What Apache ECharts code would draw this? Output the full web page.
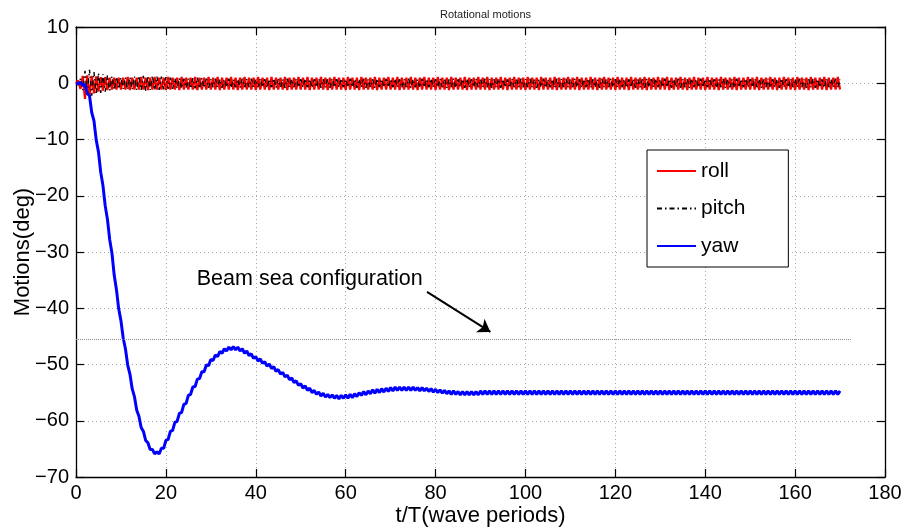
<!DOCTYPE html>
<html>
<head>
<meta charset="utf-8">
<script src="https://cdn.jsdelivr.net/npm/echarts@6/dist/echarts.min.js"></script>
<style>
html,body{margin:0;padding:0;background:#fff;}
#chart{width:907px;height:529px;}
</style>
</head>
<body>
<div id="chart"></div>
<script>
// ---- data (t/T sampled every half wave period) ----
const T_STEP = 0.5;
const xTicks = [0, 20, 40, 60, 80, 100, 120, 140, 160, 180];
const yTicks = [-70, -60, -50, -40, -30, -20, -10, 0, 10];
const seriesNames = ['roll', 'pitch', 'yaw'];

const roll = [
0,0.5,-1.0,1.3,-2.8,1.4,-2.3,1.3,-1.8,1.2,-1.5,1.1,-1.3,1.1,-1.2,1.0,-1.1,1.0,-1.1,1.0,
-1.1,1.0,-1.1,1.1,-1.2,1.0,-1.1,1.0,-1.1,1.1,-1.1,1.0,-1.2,1.0,-1.1,1.1,-1.1,1.0,-1.1,1.0,
-1.2,1.1,-1.1,1.0,-1.1,1.0,-1.2,1.1,-1.1,1.0,-1.1,1.0,-1.1,1.1,-1.2,1.0,-1.1,1.0,-1.1,1.1,
-1.1,1.0,-1.1,1.1,-1.2,1.0,-1.1,1.0,-1.1,1.1,-1.1,1.0,-1.2,1.0,-1.1,1.1,-1.1,1.0,-1.1,1.0,
-1.2,1.1,-1.1,1.0,-1.1,1.0,-1.2,1.1,-1.1,1.0,-1.1,1.0,-1.1,1.1,-1.2,1.0,-1.1,1.0,-1.1,1.1,
-1.1,1.0,-1.1,1.1,-1.2,1.0,-1.1,1.0,-1.1,1.1,-1.1,1.0,-1.2,1.0,-1.1,1.1,-1.1,1.0,-1.1,1.0,
-1.2,1.1,-1.1,1.0,-1.1,1.0,-1.2,1.1,-1.1,1.0,-1.1,1.0,-1.1,1.1,-1.2,1.0,-1.1,1.0,-1.1,1.1,
-1.1,1.0,-1.1,1.1,-1.2,1.0,-1.1,1.0,-1.1,1.1,-1.1,1.0,-1.2,1.0,-1.1,1.1,-1.1,1.0,-1.1,1.0,
-1.2,1.1,-1.1,1.0,-1.1,1.0,-1.2,1.1,-1.1,1.0,-1.1,1.0,-1.1,1.1,-1.2,1.0,-1.1,1.0,-1.1,1.1,
-1.1,1.0,-1.1,1.1,-1.2,1.0,-1.1,1.0,-1.1,1.1,-1.1,1.0,-1.2,1.0,-1.1,1.1,-1.1,1.0,-1.1,1.0,
-1.2,1.1,-1.1,1.0,-1.1,1.0,-1.2,1.1,-1.1,1.0,-1.1,1.0,-1.1,1.1,-1.2,1.0,-1.1,1.0,-1.1,1.1,
-1.1,1.0,-1.1,1.1,-1.2,1.0,-1.1,1.0,-1.1,1.1,-1.1,1.0,-1.2,1.0,-1.1,1.1,-1.1,1.0,-1.1,1.0,
-1.2,1.1,-1.1,1.0,-1.1,1.0,-1.2,1.1,-1.1,1.0,-1.1,1.0,-1.1,1.1,-1.2,1.0,-1.1,1.0,-1.1,1.1,
-1.1,1.0,-1.1,1.1,-1.2,1.0,-1.1,1.0,-1.1,1.1,-1.1,1.0,-1.2,1.0,-1.1,1.1,-1.1,1.0,-1.1,1.0,
-1.2,1.1,-1.1,1.0,-1.1,1.0,-1.2,1.1,-1.1,1.0,-1.1,1.0,-1.1,1.1,-1.2,1.0,-1.1,1.0,-1.1,1.1,
-1.1,1.0,-1.1,1.1,-1.2,1.0,-1.1,1.0,-1.1,1.1,-1.1,1.0,-1.2,1.0,-1.1,1.1,-1.1,1.0,-1.1,1.0,
-1.2,1.1,-1.1,1.0,-1.1,1.0,-1.2,1.1,-1.1,1.0,-1.1,1.0,-1.1,1.1,-1.2,1.0,-1.1,1.0,-1.1,1.1,
-1.1
];

const pitch = [
0,-0.3,0.8,-1.2,2.2,-2.0,2.4,-2.2,2.0,-2.0,1.8,-1.7,1.6,-1.5,1.4,-1.3,1.2,-1.2,1.1,-1.0,
1.0,-1.0,1.0,-1.1,1.1,-1.1,1.2,-1.2,1.3,-1.2,1.3,-1.3,1.3,-1.2,1.3,-1.2,1.2,-1.2,1.2,-1.1,
1.1,-1.0,1.0,-1.0,0.9,-0.9,0.9,-0.9,0.8,-0.8,0.8,-0.9,0.9,-0.9,1.0,-0.9,0.9,-0.8,0.8,-0.8,
0.7,-0.7,0.8,-0.7,0.7,-0.8,0.7,-0.7,0.8,-0.8,0.7,-0.7,0.7,-0.8,0.8,-0.7,0.7,-0.7,0.8,-0.7,
0.7,-0.7,0.8,-0.7,0.7,-0.8,0.7,-0.7,0.8,-0.8,0.7,-0.7,0.7,-0.8,0.8,-0.7,0.7,-0.7,0.8,-0.7,
0.7,-0.7,0.8,-0.7,0.7,-0.8,0.7,-0.7,0.8,-0.8,0.7,-0.7,0.7,-0.8,0.8,-0.7,0.7,-0.7,0.8,-0.7,
0.7,-0.7,0.8,-0.7,0.7,-0.8,0.7,-0.7,0.8,-0.8,0.7,-0.7,0.7,-0.8,0.8,-0.7,0.7,-0.7,0.8,-0.7,
0.7,-0.7,0.8,-0.7,0.7,-0.8,0.7,-0.7,0.8,-0.8,0.7,-0.7,0.7,-0.8,0.8,-0.7,0.7,-0.7,0.8,-0.7,
0.7,-0.7,0.8,-0.7,0.7,-0.8,0.7,-0.7,0.8,-0.8,0.7,-0.7,0.7,-0.8,0.8,-0.7,0.7,-0.7,0.8,-0.7,
0.7,-0.7,0.8,-0.7,0.7,-0.8,0.7,-0.7,0.8,-0.8,0.7,-0.7,0.7,-0.8,0.8,-0.7,0.7,-0.7,0.8,-0.7,
0.7,-0.7,0.8,-0.7,0.7,-0.8,0.7,-0.7,0.8,-0.8,0.7,-0.7,0.7,-0.8,0.8,-0.7,0.7,-0.7,0.8,-0.7,
0.7,-0.7,0.8,-0.7,0.7,-0.8,0.7,-0.7,0.8,-0.8,0.7,-0.7,0.7,-0.8,0.8,-0.7,0.7,-0.7,0.8,-0.7,
0.7,-0.7,0.8,-0.7,0.7,-0.8,0.7,-0.7,0.8,-0.8,0.7,-0.7,0.7,-0.8,0.8,-0.7,0.7,-0.7,0.8,-0.7,
0.7,-0.7,0.8,-0.7,0.7,-0.8,0.7,-0.7,0.8,-0.8,0.7,-0.7,0.7,-0.8,0.8,-0.7,0.7,-0.7,0.8,-0.7,
0.7,-0.7,0.8,-0.7,0.7,-0.8,0.7,-0.7,0.8,-0.8,0.7,-0.7,0.7,-0.8,0.8,-0.7,0.7,-0.7,0.8,-0.7,
0.7,-0.7,0.8,-0.7,0.7,-0.8,0.7,-0.7,0.8,-0.8,0.7,-0.7,0.7,-0.8,0.8,-0.7,0.7,-0.7,0.8,-0.7,
0.7,-0.7,0.8,-0.7,0.7,-0.8,0.7,-0.7,0.8,-0.8,0.7,-0.7,0.7,-0.8,0.8,-0.7,0.7,-0.7,0.8,-0.7,
0.7
];

const yaw = [
0,-0.1,0.2,-0.4,-0.2,-1.8,-2.2,-5.2,-6.7,-10.1,-12.2,-15.8,-18.2,-21.8,-24.2,-27.8,-30.2,-34.1,-36.7,-40.1,
-42.2,-45.3,-47.2,-50.1,-51.7,-54.3,-55.7,-58.1,-59.2,-61.2,-61.9,-63.5,-63.9,-65.1,-65.1,-65.9,-65.5,-65.9,-64.9,-64.9,
-63.5,-63.3,-61.9,-61.7,-60.3,-60.1,-58.7,-58.5,-57.1,-56.9,-55.5,-55.3,-54.0,-53.9,-52.6,-52.5,-51.3,-51.3,-50.1,-50.2,
-49.1,-49.3,-48.3,-48.6,-47.7,-48.0,-47.2,-47.6,-46.9,-47.4,-46.8,-47.4,-46.9,-47.6,-47.2,-48.0,-47.6,-48.4,-48.1,-48.9,
-48.6,-49.4,-49.0,-49.8,-49.5,-50.3,-49.9,-50.7,-50.4,-51.2,-50.9,-51.7,-51.4,-52.2,-51.9,-52.7,-52.4,-53.2,-52.9,-53.7,
-53.4,-54.2,-53.8,-54.6,-54.2,-55.0,-54.6,-55.3,-54.9,-55.6,-55.1,-55.8,-55.3,-55.9,-55.4,-56.0,-55.5,-56.1,-55.5,-56.0,
-55.4,-56.0,-55.3,-55.9,-55.2,-55.7,-55.0,-55.5,-54.8,-55.4,-54.7,-55.2,-54.5,-55.1,-54.4,-55.0,-54.3,-54.9,-54.2,-54.8,
-54.1,-54.7,-54.0,-54.6,-54.0,-54.6,-54.0,-54.6,-54.0,-54.6,-54.0,-54.6,-54.1,-54.7,-54.1,-54.7,-54.2,-54.8,-54.3,-54.9,
-54.4,-55.0,-54.5,-55.1,-54.6,-55.2,-54.7,-55.3,-54.7,-55.3,-54.8,-55.4,-54.8,-55.4,-54.8,-55.4,-54.8,-55.4,-54.8,-55.4,
-54.7,-55.3,-54.7,-55.3,-54.7,-55.3,-54.7,-55.3,-54.7,-55.3,-54.7,-55.3,-54.7,-55.3,-54.7,-55.3,-54.7,-55.3,-54.7,-55.3,
-54.7,-55.3,-54.7,-55.3,-54.7,-55.3,-54.7,-55.3,-54.7,-55.3,-54.7,-55.3,-54.7,-55.3,-54.7,-55.3,-54.7,-55.3,-54.7,-55.3,
-54.7,-55.3,-54.7,-55.3,-54.7,-55.3,-54.7,-55.3,-54.7,-55.3,-54.7,-55.3,-54.7,-55.3,-54.7,-55.3,-54.7,-55.3,-54.7,-55.3,
-54.7,-55.3,-54.7,-55.3,-54.7,-55.3,-54.7,-55.3,-54.7,-55.3,-54.7,-55.3,-54.7,-55.3,-54.7,-55.3,-54.7,-55.3,-54.7,-55.3,
-54.7,-55.3,-54.7,-55.3,-54.7,-55.3,-54.7,-55.3,-54.7,-55.3,-54.7,-55.3,-54.7,-55.3,-54.7,-55.3,-54.7,-55.3,-54.7,-55.3,
-54.7,-55.3,-54.7,-55.3,-54.7,-55.3,-54.7,-55.3,-54.7,-55.3,-54.7,-55.3,-54.7,-55.3,-54.7,-55.3,-54.7,-55.3,-54.7,-55.3,
-54.7,-55.3,-54.7,-55.3,-54.7,-55.3,-54.7,-55.3,-54.7,-55.3,-54.7,-55.3,-54.7,-55.3,-54.7,-55.3,-54.7,-55.3,-54.7,-55.3,
-54.7,-55.3,-54.7,-55.3,-54.7,-55.3,-54.7,-55.3,-54.7,-55.3,-54.7,-55.3,-54.7,-55.3,-54.7,-55.3,-54.7,-55.3,-54.7,-55.3,
-54.7
];

// annotation (data coordinates)
const noteText = 'Beam sea configuration';
const notePos = [52.0, -34.8];
const arrowFrom = [78.1, -37.1];
const arrowTo = [92.2, -44.2];
const refLineY = -45.5;
const refLineX = [0, 172.5];

// ---- chart ----
const FONT = "'Liberation Sans', Arial, Helvetica, sans-serif";
const toPairs = arr => arr.map((v, i) => [i * T_STEP, v]);
const minusFmt = v => String(v).replace('-', '\u2212');

const chart = echarts.init(document.getElementById('chart'), null, {renderer: 'canvas'});

const axisCommon = {
  type: 'value',
  axisLine: {show: true, onZero: false, lineStyle: {color: '#000', width: 1.3}},
  axisTick: {show: true, inside: true, length: 8, lineStyle: {color: '#000', width: 1.2}},
  splitLine: {show: false},
  axisLabel: {show: false}
};

chart.setOption({
  animation: false,
  backgroundColor: '#fff',
  textStyle: {fontFamily: FONT},
  title: {
    text: 'Rotational motions',
    left: 480.5, top: 4, textAlign: 'center',
    textStyle: {fontSize: 11, fontWeight: 'normal', color: '#222', fontFamily: FONT}
  },
  grid: {left: 76, right: 22, top: 27, bottom: 52, containLabel: false, outerBoundsMode: 'none'},
  legend: {
    data: seriesNames,
    orient: 'vertical',
    left: 647, top: 150,
    padding: [9, 43, 9, 9],
    itemGap: 13.5,
    itemWidth: 39, itemHeight: 14,
    backgroundColor: '#fff',
    borderColor: '#000', borderWidth: 1,
    itemStyle: {opacity: 0},
    textStyle: {fontSize: 21, color: '#000', fontFamily: FONT, lineHeight: 24}
  },
  xAxis: [
    Object.assign({}, axisCommon, {
      min: xTicks[0], max: xTicks[xTicks.length - 1], interval: xTicks[1] - xTicks[0],
      position: 'bottom',
      name: 't/T(wave periods)', nameLocation: 'middle', nameGap: 28, nameMoveOverlap: false,
      nameTextStyle: {fontSize: 22, color: '#000', fontFamily: FONT},
      splitLine: {show: true, lineStyle: {color: '#a8a8a8', width: 1, type: [1, 3]}},
      axisLabel: {show: true, fontSize: 20, color: '#000', margin: 6, fontFamily: FONT, formatter: minusFmt}
    }),
    Object.assign({}, axisCommon, {
      min: xTicks[0], max: xTicks[xTicks.length - 1], interval: xTicks[1] - xTicks[0],
      position: 'top'
    })
  ],
  yAxis: [
    Object.assign({}, axisCommon, {
      min: yTicks[0], max: yTicks[yTicks.length - 1], interval: yTicks[1] - yTicks[0],
      position: 'left',
      name: 'Motions(deg)', nameLocation: 'middle', nameGap: 42, nameRotate: 90, nameMoveOverlap: false,
      nameTextStyle: {fontSize: 22, color: '#000', fontFamily: FONT},
      splitLine: {show: true, lineStyle: {color: '#a8a8a8', width: 1, type: [1, 3]}},
      axisLabel: {show: true, fontSize: 20, color: '#000', margin: 7, fontFamily: FONT, formatter: minusFmt}
    }),
    Object.assign({}, axisCommon, {
      min: yTicks[0], max: yTicks[yTicks.length - 1], interval: yTicks[1] - yTicks[0],
      position: 'right'
    })
  ],
  series: [
    {
      name: seriesNames[0], type: 'line', data: toPairs(roll),
      symbol: 'none', color: '#ff0000',
      lineStyle: {color: '#ff0000', width: 2.2},
      z: 2,
      markLine: {
        silent: true, symbol: ['none', 'none'],
        label: {show: false},
        lineStyle: {color: '#8c8c8c', width: 1, type: [1, 1]},
        data: [[{coord: [refLineX[0], refLineY]}, {coord: [refLineX[1], refLineY]}]]
      }
    },
    {
      name: seriesNames[1], type: 'line', data: toPairs(pitch),
      symbol: 'none', color: '#000',
      lineStyle: {color: '#000', width: 1.4, type: [5, 3, 1.5, 3]},
      z: 3
    },
    {
      name: seriesNames[2], type: 'line', data: toPairs(yaw),
      symbol: 'none', color: '#0000ff',
      lineStyle: {color: '#0000ff', width: 3},
      z: 4,
      markLine: {
        silent: true, symbol: ['none', 'arrow'], symbolSize: 12,
        label: {show: false},
        lineStyle: {color: '#000', width: 2, type: 'solid'},
        data: [[{coord: arrowFrom}, {coord: arrowTo}]]
      },
      markPoint: {
        silent: true, symbol: 'circle', symbolSize: 0,
        label: {show: true, position: 'inside', formatter: noteText, fontSize: 21.5, color: '#000', fontFamily: FONT},
        data: [{coord: notePos}]
      }
    }
  ]
});
</script>
</body>
</html>
